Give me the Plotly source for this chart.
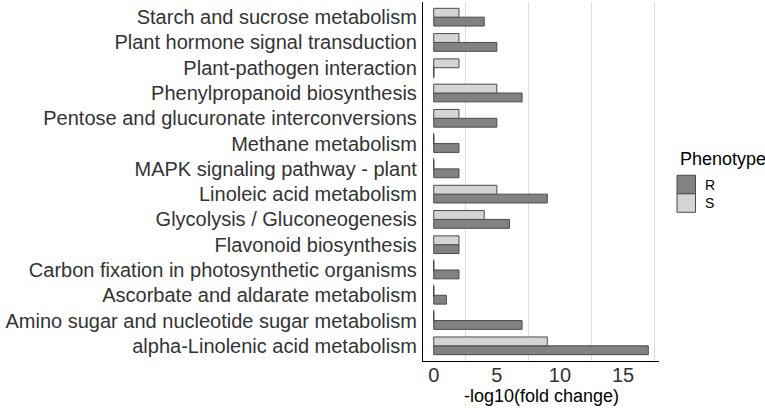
import plotly.graph_objects as go

# pathways, listed bottom to top
pathways = [
    "alpha-Linolenic acid metabolism",
    "Amino sugar and nucleotide sugar metabolism",
    "Ascorbate and aldarate metabolism",
    "Carbon fixation in photosynthetic organisms",
    "Flavonoid biosynthesis",
    "Glycolysis / Gluconeogenesis",
    "Linoleic acid metabolism",
    "MAPK signaling pathway - plant",
    "Methane metabolism",
    "Pentose and glucuronate interconversions",
    "Phenylpropanoid biosynthesis",
    "Plant-pathogen interaction",
    "Plant hormone signal transduction",
    "Starch and sucrose metabolism",
]
r_vals = [17, 7, 1, 2, 2, 6, 9, 2, 2, 5, 7, 0, 5, 4]
s_vals = [9, 0, 0, 0, 2, 4, 5, 0, 0, 2, 5, 2, 2, 2]

idx = list(range(len(pathways)))
bw = 0.35
edge = "#4a4a4a"
font = "Liberation Sans, Arial, sans-serif"

fig = go.Figure()
fig.add_trace(go.Bar(x=r_vals, y=idx, orientation="h", width=bw, offset=-bw, name="R",
                     marker=dict(color="#828282", line=dict(color=edge, width=1))))
fig.add_trace(go.Bar(x=s_vals, y=idx, orientation="h", width=bw, offset=0, name="S",
                     marker=dict(color="#d4d4d4", line=dict(color=edge, width=1))))

# zero-length bars still show their outline as a thin tick at 0
zx, zy = [], []
for i, (r, s) in enumerate(zip(r_vals, s_vals)):
    if r == 0:
        zx.append(0); zy.append(i - bw / 2)
    if s == 0:
        zx.append(0); zy.append(i + bw / 2)
fig.add_trace(go.Scatter(x=zx, y=zy, mode="markers", hoverinfo="skip",
                         marker=dict(symbol="line-ns", size=9, line=dict(color=edge, width=1))))

fig.update_layout(
    width=765, height=408,
    margin=dict(l=423, r=106, t=2, b=47),
    plot_bgcolor="white", paper_bgcolor="white",
    barmode="overlay", showlegend=False,
    font=dict(family=font, color="#333333"),
)
fig.update_xaxes(
    range=[-0.85, 17.85], tickvals=[0, 5, 10, 15], showgrid=False, zeroline=False,
    minor=dict(tick0=2.5, dtick=5, showgrid=True, gridcolor="#dcdcdc", gridwidth=1),
    showline=True, linecolor="black", linewidth=1.3, ticks="", ticklabelstandoff=-4,
    tickfont=dict(size=20, color="#333333"), automargin=False,
)
fig.update_yaxes(
    range=[-0.6, 13.6], tickvals=idx, ticktext=pathways, showgrid=False, zeroline=False,
    showline=True, linecolor="black", linewidth=1.3, ticks="", ticklabelstandoff=1,
    tickfont=dict(size=20, color="#333333"), automargin=False,
)

# pixel -> paper helpers for the hand placed texts
def py(p):
    return (360.5 - p) / 358.5

def px_(p):
    return (p - 423) / 236

# x axis title, placed tight under the tick labels like the reference
fig.add_annotation(x=0.5, y=py(395), xref="paper", yref="paper", text="-log10(fold change)",
                   showarrow=False, xanchor="center", yanchor="middle",
                   font=dict(size=18, color="black"))

# legend drawn by hand so the keys match the reference size
fig.add_annotation(x=px_(678), y=py(159), xref="paper", yref="paper", text="Phenotype",
                   showarrow=False, xanchor="left", yanchor="middle",
                   font=dict(size=18, color="black"))
for name, col, top in [("R", "#828282", 175), ("S", "#d4d4d4", 193.5)]:
    fig.add_shape(type="rect", xref="paper", yref="paper",
                  x0=px_(677), x1=px_(695.5), y0=py(top), y1=py(top + 18.5),
                  fillcolor=col, line=dict(color=edge, width=1))
    fig.add_annotation(x=px_(703), y=py(top + 9.5), xref="paper", yref="paper", text=name,
                       showarrow=False, xanchor="left", yanchor="middle",
                       font=dict(size=14, color="black"))

# page body has a default 8px margin; drop it so the figure sits at the corner
fig.write_html("out.html", config={"displayModeBar": False},
               post_script="document.body.style.margin='0';")
